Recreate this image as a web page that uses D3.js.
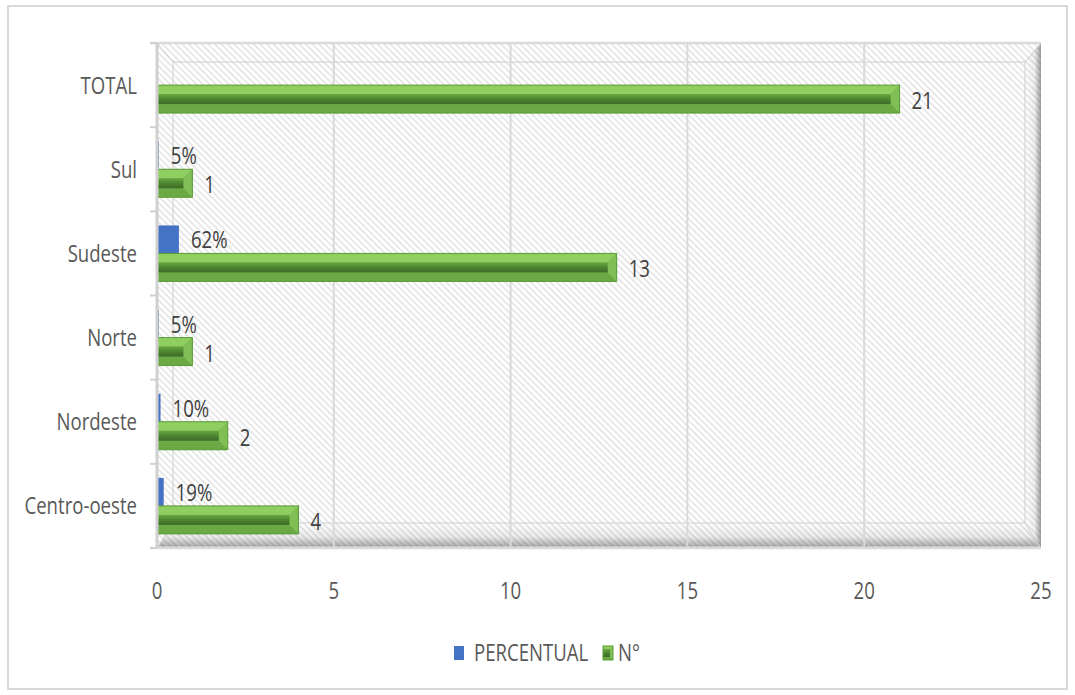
<!DOCTYPE html>
<html>
<head>
<meta charset="utf-8">
<script src="https://cdn.jsdelivr.net/npm/d3@7"></script>
<style>
  html, body { margin: 0; padding: 0; background: #fff; }
  svg { display: block; }
  text { font-family: "Open Sans", Lato, sans-serif; font-weight: 400; fill: #595959; }
</style>
</head>
<body>
<svg id="chart" width="1075" height="695"></svg>
<script>
// Regions, top to bottom as drawn
const categories = ["TOTAL", "Sul", "Sudeste", "Norte", "Nordeste", "Centro-oeste"];
// Share of each region (fraction); TOTAL has no share bar
const percentual = [null, 0.05, 0.62, 0.05, 0.10, 0.19];
// Count of each region
const numero = [21, 1, 13, 1, 2, 4];
const seriesNames = ["PERCENTUAL", "N°"];
const xTicks = [0, 5, 10, 15, 20, 25];

const SX = 0.775;           // horizontal squeeze applied to all text
const FONT = 24;
const blue = "#4472c4";
const green = "#70ad47";

const plot = { x0: 157, x1: 1041, y0: 43, y1: 548 };
const inner = { x0: 173, x1: 1025, y0: 62, y1: 523 };

const svg = d3.select("#chart");
const defs = svg.append("defs");

// diagonal hatch fill of the plot wall
const P = 4.6;
const pat = defs.append("pattern")
  .attr("id", "hatch").attr("patternUnits", "userSpaceOnUse")
  .attr("width", P).attr("height", P)
  .attr("patternTransform", "rotate(-45)");
pat.append("rect").attr("width", P).attr("height", P).attr("fill", "#ffffff");
pat.append("line").attr("x1", 1).attr("x2", 1).attr("y1", 0).attr("y2", P)
  .attr("stroke", "#dcdcdc").attr("stroke-width", 1.25);

// bevel shading gradients
const gR = defs.append("linearGradient").attr("id", "shadeR")
  .attr("x1", 0).attr("x2", 1).attr("y1", 0).attr("y2", 0);
gR.append("stop").attr("offset", 0).attr("stop-color", "#000").attr("stop-opacity", 0);
gR.append("stop").attr("offset", 0.6).attr("stop-color", "#000").attr("stop-opacity", 0.06);
gR.append("stop").attr("offset", 1).attr("stop-color", "#000").attr("stop-opacity", 0.38);
const gB = defs.append("linearGradient").attr("id", "shadeB")
  .attr("x1", 0).attr("x2", 0).attr("y1", 0).attr("y2", 1);
gB.append("stop").attr("offset", 0).attr("stop-color", "#000").attr("stop-opacity", 0);
gB.append("stop").attr("offset", 0.55).attr("stop-color", "#000").attr("stop-opacity", 0.08);
gB.append("stop").attr("offset", 0.9).attr("stop-color", "#000").attr("stop-opacity", 0.3);
gB.append("stop").attr("offset", 1).attr("stop-color", "#000").attr("stop-opacity", 0.1);

// gradient for the flat middle of a bevelled green bar
const gG = defs.append("linearGradient").attr("id", "barMid")
  .attr("x1", 0).attr("x2", 0).attr("y1", 0).attr("y2", 1);
gG.append("stop").attr("offset", 0).attr("stop-color", "#66a841");
gG.append("stop").attr("offset", 0.5).attr("stop-color", "#4c8630");
gG.append("stop").attr("offset", 1).attr("stop-color", "#3c6a27");

// outer chart frame
svg.append("rect").attr("x", 8).attr("y", 6).attr("width", 1059).attr("height", 683)
  .attr("fill", "none").attr("stroke", "#d9d9d9").attr("stroke-width", 2);

// scales
const x = d3.scaleLinear().domain([0, 25]).range([plot.x0, plot.x1]);
const y = d3.scaleBand().domain(categories).range([plot.y0, plot.y1])
  .paddingInner(0.335).paddingOuter(0.1675);
const ySub = d3.scaleBand().domain(seriesNames).range([0, y.bandwidth()]);

// plot wall with hatch
svg.append("rect").attr("x", plot.x0).attr("y", plot.y0)
  .attr("width", plot.x1 - plot.x0).attr("height", plot.y1 - plot.y0)
  .attr("fill", "url(#hatch)");

// right and bottom bevel shadows
svg.append("path")
  .attr("d", `M${inner.x1},${inner.y0} L${plot.x1},${plot.y0} L${plot.x1},${plot.y1} L${inner.x1},${inner.y1} Z`)
  .attr("fill", "url(#shadeR)");
svg.append("path")
  .attr("d", `M${inner.x0},${inner.y1} L${inner.x1},${inner.y1} L${plot.x1},${plot.y1} L${plot.x0},${plot.y1} Z`)
  .attr("fill", "url(#shadeB)");

// inner ridge of the bevel
svg.append("rect").attr("x", inner.x0).attr("y", inner.y0)
  .attr("width", inner.x1 - inner.x0).attr("height", inner.y1 - inner.y0)
  .attr("fill", "none").attr("stroke", "#d4d4d4").attr("stroke-width", 1.2);
[[plot.x0, plot.y0, inner.x0, inner.y0], [plot.x1, plot.y0, inner.x1, inner.y0],
 [plot.x0, plot.y1, inner.x0, inner.y1], [plot.x1, plot.y1, inner.x1, inner.y1]]
  .forEach(([a, b, c, d]) => svg.append("line")
    .attr("x1", a).attr("y1", b).attr("x2", c).attr("y2", d)
    .attr("stroke", "#cfcfcf").attr("stroke-width", 1));

// vertical gridlines
svg.append("g").selectAll("line").data(xTicks.filter(t => t > 0 && t < 25)).join("line")
  .attr("x1", d => x(d)).attr("x2", d => x(d))
  .attr("y1", plot.y0).attr("y2", plot.y1)
  .attr("stroke", "#d9d9d9").attr("stroke-width", 2);

// outer edges of the wall
svg.append("line").attr("x1", 150).attr("x2", plot.x1).attr("y1", plot.y0).attr("y2", plot.y0)
  .attr("stroke", "#dadada").attr("stroke-width", 2.5);
svg.append("line").attr("x1", 150).attr("x2", plot.x1).attr("y1", plot.y1).attr("y2", plot.y1)
  .attr("stroke", "#dadada").attr("stroke-width", 2.5);

// category tick marks at band boundaries
const bounds = categories.map(c => y(c) - y.step() * y.paddingInner() / 2).concat([plot.y1]);
svg.append("g").selectAll("line").data(bounds).join("line")
  .attr("x1", 150).attr("x2", plot.x0)
  .attr("y1", d => d).attr("y2", d => d)
  .attr("stroke", "#d0d0d0").attr("stroke-width", 2);

// squeezed text helper
function label(g, xp, yp, s, anchor, color) {
  return g.append("text")
    .attr("transform", `translate(${xp},${yp}) scale(${SX},1)`)
    .attr("text-anchor", anchor)
    .attr("font-size", FONT)
    .style("fill", color || "#595959")
    .text(s);
}

// axis labels
const axG = svg.append("g");
xTicks.forEach(t => label(axG, x(t), 599, String(t), "middle"));
categories.forEach(c => label(axG, 137, y(c) + y.bandwidth() / 2 + 8.5, c, "end"));

// share bars (blue)
const barG = svg.append("g");
categories.forEach((c, i) => {
  const v = percentual[i];
  if (v == null) return;
  const y0 = y(c) + ySub("PERCENTUAL");
  barG.append("rect")
    .attr("x", x(0)).attr("y", y0)
    .attr("width", x(v) - x(0)).attr("height", ySub.bandwidth())
    .attr("fill", blue);
  label(barG, x(v) + 12, y0 + ySub.bandwidth() / 2 + 9, Math.round(v * 100) + "%", "start", "#404040");
});

// bevelled green bar
function bevelBar(g, x0, x1, y0, h, dMax) {
  const y1 = y0 + h, d = Math.min(dMax || 9, (x1 - x0) / 2);
  g.append("rect").attr("x", x0).attr("y", y0).attr("width", x1 - x0).attr("height", h)
    .attr("fill", green);
  g.append("path").attr("d", `M${x0},${y0} L${x1},${y0} L${x1 - d},${y0 + d} L${x0},${y0 + d} Z`)
    .attr("fill", "#8fcf62");
  g.append("path").attr("d", `M${x0},${y1} L${x1},${y1} L${x1 - d},${y1 - d} L${x0},${y1 - d} Z`)
    .attr("fill", "#6aa943");
  g.append("path").attr("d", `M${x1},${y0} L${x1},${y1} L${x1 - d},${y1 - d} L${x1 - d},${y0 + d} Z`)
    .attr("fill", "#7fbf56");
  g.append("rect").attr("x", x0).attr("y", y0 + d).attr("width", Math.max(0, x1 - d - x0))
    .attr("height", Math.max(0, h - 2 * d)).attr("fill", "url(#barMid)");
  g.append("rect").attr("x", x0).attr("y", y0).attr("width", x1 - x0).attr("height", h)
    .attr("fill", "none").attr("stroke", "#5b9b39").attr("stroke-width", 1);
}

categories.forEach((c, i) => {
  const v = numero[i];
  const y0 = y(c) + ySub("N°");
  bevelBar(barG, x(0), x(v), y0, ySub.bandwidth());
  label(barG, x(v) + 12, y0 + ySub.bandwidth() / 2 + 10, String(v), "start", "#404040");
});

// value axis line drawn over the bar roots
svg.append("line").attr("x1", plot.x0).attr("x2", plot.x0).attr("y1", plot.y0).attr("y2", plot.y1)
  .attr("stroke", "#d0d0d0").attr("stroke-width", 3);

// legend
const lg = svg.append("g");
lg.append("rect").attr("x", 454).attr("y", 646).attr("width", 10).attr("height", 14).attr("fill", blue);
label(lg, 474, 661, seriesNames[0], "start");
bevelBar(lg, 603, 613, 646, 14, 3);
label(lg, 618, 661, seriesNames[1], "start");
</script>
</body>
</html>
